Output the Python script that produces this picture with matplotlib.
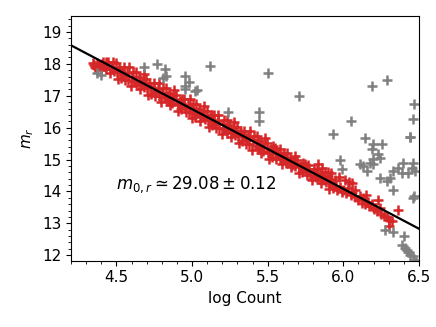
"""
Magnitude vs. log count with a fixed-slope zero-point fit.
"""
import matplotlib
matplotlib.use("Agg")
import matplotlib.pyplot as plt
from matplotlib.ticker import MultipleLocator

# fit result (slope fixed to -2.5)
M0 = 29.08
M0_ERR = 0.12

# inliers used in the fit
red_x = [
    4.344, 4.352, 4.358, 4.371, 4.379, 4.368, 4.396, 4.404, 4.409,
    4.421, 4.429, 4.433, 4.447, 4.455, 4.443, 4.472, 4.479, 4.484,
    4.496, 4.505, 4.509, 4.521, 4.529, 4.518, 4.547, 4.553, 4.558,
    4.571, 4.579, 4.584, 4.596, 4.604, 4.608, 4.622, 4.628, 4.633,
    4.646, 4.654, 4.658, 4.671, 4.679, 4.683, 4.697, 4.704, 4.708,
    4.721, 4.729, 4.718, 4.746, 4.754, 4.758, 4.772, 4.778, 4.783,
    4.796, 4.804, 4.809, 4.821, 4.829, 4.833, 4.847, 4.853, 4.858,
    4.871, 4.879, 4.868, 4.896, 4.904, 4.909, 4.922, 4.928, 4.933,
    4.946, 4.954, 4.958, 4.971, 4.979, 4.983, 4.997, 5.004, 5.008,
    5.021, 5.029, 5.018, 5.046, 5.054, 5.058, 5.072, 5.078, 5.083,
    5.096, 5.104, 5.109, 5.121, 5.129, 5.133, 5.147, 5.153, 5.158,
    5.171, 5.179, 5.168, 5.196, 5.204, 5.209, 5.222, 5.228, 5.233,
    5.246, 5.254, 5.258, 5.271, 5.279, 5.283, 5.297, 5.304, 5.308,
    5.321, 5.329, 5.318, 5.346, 5.354, 5.358, 5.372, 5.378, 5.383,
    5.396, 5.404, 5.409, 5.421, 5.429, 5.433, 5.447, 5.453, 5.458,
    5.471, 5.479, 5.468, 5.496, 5.504, 5.509, 5.522, 5.528, 5.533,
    5.546, 5.554, 5.558, 5.571, 5.579, 5.583, 5.597, 5.604, 5.608,
    5.621, 5.629, 5.618, 5.646, 5.654, 5.658, 5.672, 5.678, 5.683,
    5.696, 5.704, 5.709, 5.721, 5.729, 5.733, 5.747, 5.753, 5.758,
    5.771, 5.779, 5.768, 5.796, 5.804, 5.809, 5.822, 5.828, 5.833,
    5.846, 5.854, 5.858, 5.871, 5.879, 5.883, 5.897, 5.904, 5.908,
    5.921, 5.929, 5.918, 5.946, 5.954, 5.958,
    5.83, 5.92, 6.055, 6.08, 6.15, 6.23, 6.18, 6.24, 6.30, 6.36,
    6.29, 6.32, 6.30, 6.00, 6.02, 6.05, 6.08, 6.10, 6.12, 6.14,
    6.17, 6.20, 6.22, 6.25, 6.27, 5.98, 5.99, 6.03, 6.06, 6.11,
    6.13, 6.16, 6.19, 5.86, 5.90, 5.97, 6.01, 6.04,
    4.462, 4.538, 4.613, 4.687, 4.762, 4.838, 4.912, 4.987, 5.062,
    5.138, 5.212, 5.287, 5.362, 5.437, 5.512, 5.588, 5.662, 5.737,
]
red_y = [
    18.02, 17.95, 17.90, 18.03, 17.96, 17.86, 17.80, 18.00, 18.05,
    17.92, 18.05, 17.84, 18.06, 17.71, 17.96, 17.87, 18.06, 17.77,
    18.03, 17.75, 17.53, 17.82, 17.57, 17.91, 17.89, 17.66, 17.49,
    17.72, 17.49, 17.89, 17.30, 17.60, 17.73, 17.42, 17.74, 17.34,
    17.58, 17.21, 17.46, 17.37, 17.67, 17.27, 17.53, 17.25, 17.03,
    17.32, 17.07, 17.41, 17.39, 17.16, 16.99, 17.22, 16.99, 17.39,
    16.80, 17.10, 17.23, 16.92, 17.24, 16.84, 17.08, 16.71, 16.96,
    16.87, 17.17, 16.77, 17.03, 16.75, 16.53, 16.82, 16.57, 16.91,
    16.89, 16.66, 16.49, 16.72, 16.49, 16.89, 16.30, 16.60, 16.73,
    16.42, 16.74, 16.34, 16.58, 16.21, 16.46, 16.37, 16.67, 16.27,
    16.53, 16.25, 16.03, 16.32, 16.07, 16.41, 16.39, 16.16, 15.99,
    16.22, 15.99, 16.39, 15.80, 16.10, 16.23, 15.92, 16.24, 15.84,
    16.08, 15.71, 15.96, 15.87, 16.17, 15.77, 16.03, 15.75, 15.53,
    15.82, 15.57, 15.91, 15.89, 15.66, 15.49, 15.72, 15.49, 15.89,
    15.30, 15.60, 15.73, 15.42, 15.74, 15.34, 15.58, 15.21, 15.46,
    15.37, 15.67, 15.27, 15.53, 15.25, 15.03, 15.32, 15.07, 15.41,
    15.35, 15.17, 15.03, 15.20, 15.02, 15.34, 14.86, 15.10, 15.20,
    14.94, 15.20, 14.88, 15.06, 14.76, 14.96, 14.87, 15.11, 14.79,
    14.99, 14.77, 14.59, 14.81, 14.61, 14.88, 14.85, 14.67, 14.53,
    14.70, 14.52, 14.84, 14.36, 14.60, 14.70, 14.44, 14.70, 14.38,
    14.56, 14.26, 14.46, 14.37, 14.61, 14.29, 14.49, 14.27, 14.09,
    14.31, 14.11, 14.38, 14.35, 14.17, 14.03,
    14.86, 14.59, 14.27, 14.06, 13.90, 13.74, 13.53, 13.48, 13.11, 13.43,
    13.20, 13.06, 12.90, 14.05, 13.95, 13.90, 13.82, 13.72, 13.65, 13.62,
    13.55, 13.45, 13.40, 13.28, 13.22, 14.15, 13.98, 14.12, 13.98, 13.85,
    13.78, 13.68, 13.60, 14.72, 14.62, 14.45, 14.35, 14.30,
    17.84, 17.70, 17.45, 17.40, 17.12, 16.99, 16.70, 16.62, 16.35,
    16.20, 16.00, 15.90, 15.60, 15.60, 15.20, 15.10, 14.82, 14.72,
]

# rejected points
gray_x = [
    4.37, 4.40, 4.68, 4.77, 4.82, 4.83, 4.81, 4.95, 4.98, 4.95,
    5.02, 4.95, 5.03, 5.12, 5.24, 5.44, 5.44, 5.50, 5.71,
    6.19, 6.29, 6.47, 6.46, 6.44, 6.05, 5.93, 6.14, 6.44,
    6.198, 6.253, 6.187, 6.231, 6.242, 6.198, 6.176, 6.198, 6.132,
    6.110, 6.154, 5.98, 5.99,
    6.396, 6.363, 6.462, 6.33, 6.386, 6.43, 6.474, 6.452,
    6.242, 6.287, 6.308, 6.33, 6.47, 6.46,
    6.275, 6.33, 6.40, 6.385, 6.41, 6.43, 6.44, 6.46, 6.47, 6.48, 6.42,
]
gray_y = [
    17.72, 17.66, 17.89, 18.00, 17.85, 17.63, 17.57, 17.61, 17.42, 17.21,
    17.16, 17.32, 17.19, 17.92, 16.48, 16.48, 16.21, 17.72, 17.00,
    17.32, 17.48, 16.74, 16.27, 15.70, 16.21, 15.80, 15.66, 15.72,
    15.48, 15.48, 15.32, 15.16, 15.06, 15.01, 14.90, 14.85, 14.80,
    14.85, 14.64, 15.00, 14.70,
    14.90, 14.74, 14.90, 14.64, 14.58, 14.58, 14.64, 14.74,
    14.43, 14.32, 14.43, 14.06, 13.85, 13.78,
    12.80, 12.74, 12.59, 12.33, 12.22, 12.11, 12.01, 11.96, 11.85, 11.80, 12.16,
]

fit_x = [4.2, 6.5]

plt.rcParams['font.size'] = 11

fig = plt.figure(figsize=(4.36, 3.27), dpi=100)
ax = fig.add_axes([0.163, 0.203, 0.798, 0.748])

ax.plot(red_x, red_y, '+', color='tab:red', ms=7, mew=1.8, zorder=1)
ax.plot(gray_x, gray_y, '+', color='gray', ms=7, mew=1.8, zorder=2)
ax.plot(fit_x, [M0 - 2.5 * x for x in fit_x], '-', color='black', lw=1.6,
        zorder=3)

ax.text(4.5, 14.2, r'$m_{0,r} \simeq %.2f \pm %.2f$' % (M0, M0_ERR),
        va='center', ha='left', fontsize=12)

ax.set_xlim(4.2, 6.5)
ax.set_ylim(11.83, 19.5)
ax.xaxis.set_major_locator(MultipleLocator(0.5))
ax.xaxis.set_minor_locator(MultipleLocator(0.1))
ax.yaxis.set_major_locator(MultipleLocator(1))
ax.yaxis.set_minor_locator(MultipleLocator(0.2))
ax.set_xlabel('log Count')
ax.set_ylabel(r'$m_r$')

fig.savefig('out.png', dpi=100)
